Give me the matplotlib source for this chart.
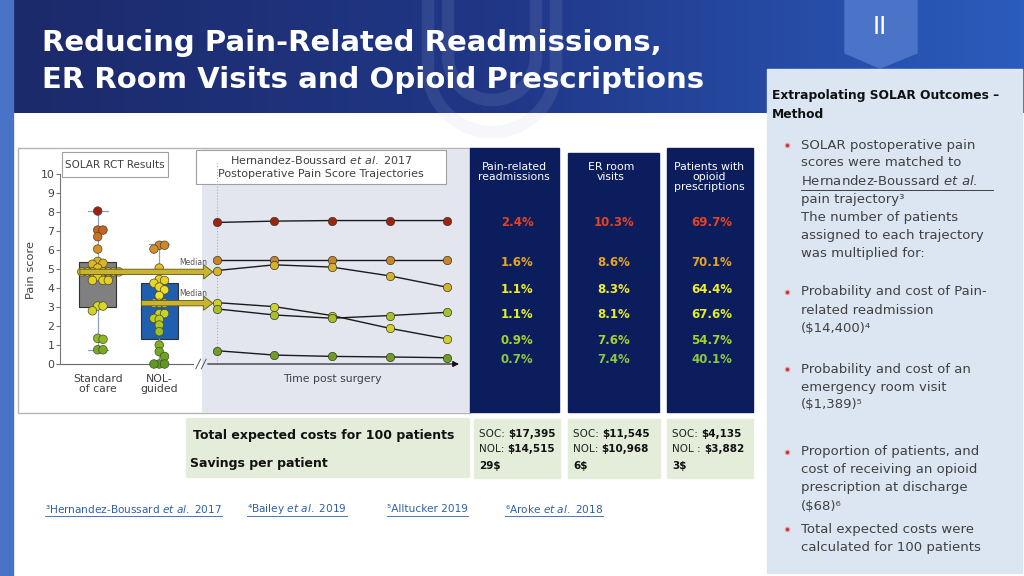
import numpy as np
import matplotlib
matplotlib.use("Agg")
import matplotlib.pyplot as plt
import matplotlib.transforms as mtransforms
from matplotlib.patches import Rectangle, Polygon
from matplotlib.colors import LinearSegmentedColormap

plt.rcParams['font.family'] = ['DejaVu Sans']
plt.rcParams['mathtext.fontset'] = 'custom'
plt.rcParams['mathtext.rm'] = 'DejaVu Sans'
plt.rcParams['mathtext.it'] = 'DejaVu Sans:italic'
plt.rcParams['mathtext.bf'] = 'DejaVu Sans:bold'

# ---- data ----
soc_scores = [8.05, 7.05, 7.05, 6.7, 6.05, 5.4, 5.3, 5.25, 5.05,
              4.85, 4.85, 4.85, 4.85, 4.85, 4.85, 4.85, 4.6, 4.4, 4.4, 4.4,
              3.05, 3.05, 2.8, 1.35, 1.3, 0.75, 0.75]
nol_scores = [6.25, 6.25, 6.05, 5.05, 4.45, 4.4, 4.25, 4.05, 3.9, 3.6,
              3.2, 3.2, 3.2, 2.65, 2.65, 2.4, 2.35, 2.05, 1.7, 1.0, 0.65,
              0.4, 0.0, 0.0, 0.0]
soc_box = dict(med=4.85, q1=3.0, q3=5.35, whislo=0.75, whishi=8.05)
nol_box = dict(med=3.2, q1=1.3, q3=4.25, whislo=0.0, whishi=6.3)
group_labels = ["Standard\nof care", "NOL-\nguided"]

time_points = [1, 2, 3, 4, 5]
traj_scores = [
    [7.45, 7.52, 7.55, 7.55, 7.55],
    [5.45, 5.45, 5.45, 5.45, 5.45],
    [4.92, 5.22, 5.10, 4.64, 4.04],
    [3.23, 3.02, 2.55, 1.88, 1.32],
    [2.90, 2.58, 2.41, 2.55, 2.72],
    [0.70, 0.47, 0.40, 0.37, 0.33],
]
traj_colors = ["#9c2410", "#c8842c", "#d6b22a", "#cfd02a", "#a9bf2a", "#6f9c24"]
pct_colors = ["#e8431d", "#e8a420", "#f2ee24", "#a6d22c", "#e0ee2c", "#8cc63e"]

outcome_titles = ["Pain-related\nreadmissions", "ER room\nvisits",
                  "Patients with\nopioid\nprescriptions"]
readmission_pct = ["2.4%", "1.6%", "1.1%", "0.9%", "1.1%", "0.7%"]
er_pct = ["10.3%", "8.6%", "8.3%", "7.6%", "8.1%", "7.4%"]
opioid_pct = ["69.7%", "70.1%", "64.4%", "54.7%", "67.6%", "40.1%"]

soc_costs = ["$17,395", "$11,545", "$4,135"]
nol_costs = ["$14,515", "$10,968", "$3,882"]
nol_tags = ["NOL:", "NOL:", "NOL :"]
savings = ["29$", "6$", "3$"]

footnotes = ["³Hernandez-Boussard $\\it{et\\ al.}$ 2017", "⁴Bailey $\\it{et\\ al.}$ 2019",
             "⁵Alltucker 2019", "⁶Aroke $\\it{et\\ al.}$ 2018"]

method_bullets = [
    ["SOLAR postoperative pain", "scores were matched to",
     "Hernandez-Boussard $\\it{et\\ al.}$", "pain trajectory³",
     "The number of patients", "assigned to each trajectory", "was multiplied for:"],
    ["Probability and cost of Pain-", "related readmission", "($14,400)⁴"],
    ["Probability and cost of an", "emergency room visit", "($1,389)⁵"],
    ["Proportion of patients, and", "cost of receiving an opioid",
     "prescription at discharge", "($68)⁶"],
    ["Total expected costs were", "calculated for 100 patients"],
]

navy = "#0c1d5e"
text_gray = "#404040"

fig = plt.figure(figsize=(10.24, 5.76), dpi=100)
fig.patch.set_facecolor("white")

# background canvas in pixel units
bg = fig.add_axes([0, 0, 1, 1], zorder=0)
bg.set_xlim(0, 1024)
bg.set_ylim(576, 0)
bg.axis("off")

# header band with gradient
grad = np.linspace(0, 1, 256).reshape(1, -1)
hdr_cmap = LinearSegmentedColormap.from_list("hdr", ["#1b2a6a", "#213888", "#2a5cbd"])
bg.imshow(grad, extent=(13, 1024, 113, 0), aspect="auto", cmap=hdr_cmap, zorder=0)
bg.add_patch(Rectangle((0, 0), 13, 576, color="#4873c6", zorder=1))

# faint U watermark
for r, cy in [(64, 68), (44, 56)]:
    th = np.linspace(np.pi, 2 * np.pi, 60)
    ux = np.concatenate([[492 - r], 492 + r * np.cos(th), [492 + r]])
    uy = np.concatenate([[-5], cy - r * np.sin(th), [-5]])
    bg.plot(ux, uy, color="#b9c3dc", lw=9, alpha=0.12, solid_capstyle="butt", zorder=1)

bg.text(42, 43, "Reducing Pain-Related Readmissions,", color="white", fontsize=21,
        fontweight="bold", va="center", zorder=3)
bg.text(42, 80, "ER Room Visits and Opioid Prescriptions", color="white", fontsize=21,
        fontweight="bold", va="center", zorder=3)

# section tab
bg.add_patch(Polygon([(845, 0), (917, 0), (917, 53), (880, 68), (845, 53)],
                     closed=True, color="#4b74c9", zorder=2))
bg.text(880, 27, "II", color="white", fontsize=17, ha="center", va="center", zorder=3)

# right panel
bg.add_patch(Rectangle((767, 69), 255, 504, color="#dce6f2", zorder=2))
bg.text(772, 95, "Extrapolating SOLAR Outcomes –", fontsize=8.8, fontweight="bold",
        color="#111111", va="center", zorder=3)
bg.text(772, 115, "Method", fontsize=8.8, fontweight="bold", color="#111111",
        va="center", zorder=3)
starts = [145, 292, 369, 452, 529]
for y0, lines in zip(starts, method_bullets):
    bg.plot(787, y0, "o", ms=3.2, color="#c0393b", mec="#e8a0a0", mew=0.8, zorder=3)
    for i, line in enumerate(lines):
        bg.text(801, y0 + i * 18, line, fontsize=9.5, color=text_gray, va="center", zorder=3)
bg.plot([801, 993], [190, 190], color=text_gray, lw=0.7, zorder=3)

# chart frame + shaded trajectory panel
bg.add_patch(Rectangle((18, 148), 452, 265, facecolor="white", edgecolor="#b5b5b5",
                       lw=1.0, zorder=1))
bg.add_patch(Rectangle((202, 148.5), 268, 264, facecolor="#e3e6ee", edgecolor="none", zorder=1))

# navy outcome columns
col_x = [(470, 559, 148), (568, 659, 153), (667, 753, 148)]
col_cx = [517, 614, 712]
for (x0, x1, top), title, cx in zip(col_x, outcome_titles, col_cx):
    bg.add_patch(Rectangle((x0, top), x1 - x0, 412 - top, color=navy, zorder=1))
    bg.text(cx - 3, 162, title, color="white", fontsize=7.8, ha="center", va="top",
            linespacing=1.0, zorder=3)

# chart title boxes
bg.add_patch(Rectangle((62, 152), 106, 25, facecolor="white", edgecolor="#a0a0a0", lw=0.8, zorder=3))
bg.text(115, 164.5, "SOLAR RCT Results", fontsize=7.5, color=text_gray, ha="center",
        va="center", zorder=4)
bg.add_patch(Rectangle((196, 150), 250, 34, facecolor="white", edgecolor="#a0a0a0", lw=0.8, zorder=3))
bg.text(321, 160, "Hernandez-Boussard $\\it{et\\ al.}$ 2017", fontsize=8, color=text_gray,
        ha="center", va="center", zorder=4)
bg.text(321, 174, "Postoperative Pain Score Trajectories", fontsize=8, color=text_gray,
        ha="center", va="center", zorder=4)

# cost boxes
cost_green = "#e3edda"
bg.add_patch(Rectangle((186, 418), 283, 59, color=cost_green, zorder=1))
bg.text(193, 436, "Total expected costs for 100 patients", fontsize=9, fontweight="bold",
        color="#111111", va="center", zorder=3)
bg.text(190, 464, "Savings per patient", fontsize=9, fontweight="bold", color="#111111",
        va="center", zorder=3)
box_x = [(474, 560), (568, 660), (667, 753)]
for (x0, x1), sc, nc, ntag, sv in zip(box_x, soc_costs, nol_costs, nol_tags, savings):
    bg.add_patch(Rectangle((x0, 419), x1 - x0, 59, color=cost_green, zorder=1))
    t1 = bg.text(x0 + 5, 434, "SOC: ", fontsize=7.5, color="#222222", va="center", zorder=3)
    bg.annotate(sc, xy=(1, 0.5), xycoords=t1, fontsize=7.5, fontweight="bold",
                color="#111111", va="center", ha="left", zorder=3)
    t2 = bg.text(x0 + 5, 449, ntag + " ", fontsize=7.5, color="#222222", va="center", zorder=3)
    bg.annotate(nc, xy=(1, 0.5), xycoords=t2, fontsize=7.5, fontweight="bold",
                color="#111111", va="center", ha="left", zorder=3)
    bg.text(x0 + 5, 466, sv, fontsize=7.5, fontweight="bold", color="#111111",
            va="center", zorder=3)

# footnotes
foot_x = [45, 247, 387, 505]
foot_texts = []
for fx, ft in zip(foot_x, footnotes):
    foot_texts.append(bg.text(fx, 509, ft, fontsize=7.6, color="#2e5fae", va="center", zorder=3))

# ---- chart axes (pixels 60..457 x, 364..174 y) ----
ax = fig.add_axes([60 / 1024, (576 - 364) / 576, 397 / 1024, 190 / 576], zorder=2)
ax.patch.set_visible(False)
ax.set_xlim(0, 10)
ax.set_ylim(0, 10)
for s in ["top", "right", "bottom"]:
    ax.spines[s].set_visible(False)
ax.spines["left"].set_color("#777777")
ax.spines["left"].set_linewidth(0.8)

box_pos = [0.95, 2.5]
t_start, t_step = 3.95, 1.45
traj_x = [t_start + (t - 1) * t_step for t in time_points]

score_cmap = LinearSegmentedColormap.from_list(
    "score", [(0, "#5f9a20"), (0.16, "#8cb822"), (0.32, "#c8d024"), (0.45, "#ece22a"),
              (0.62, "#e2c024"), (0.78, "#cf8426"), (0.88, "#c2601e"), (1.0, "#9c1e10")])

ax.bxp([soc_box, nol_box], positions=box_pos, widths=0.92, capwidths=0.5,
       showfliers=False, patch_artist=True, manage_ticks=False,
       boxprops=dict(edgecolor="#303030", linewidth=0.8),
       whiskerprops=dict(color="#8aa2c6", linewidth=0.9),
       capprops=dict(color="#8aa2c6", linewidth=0.9),
       medianprops=dict(color="#303030", linewidth=0.8), zorder=2)
for patch, fc in zip(ax.patches[-2:], ["#808080", "#1f5fae"]):
    patch.set_facecolor(fc)

ax.set_xticks([])
ax.set_yticks(range(0, 11))
ax.tick_params(axis="y", labelsize=7.8, labelcolor=text_gray, color="#777777",
               length=3, width=0.8, pad=1)


def swarm(values, center):
    # simple beeswarm: step sideways until the dot no longer overlaps
    dx, dy = 5.3 / 39.7, 5.3 / 19.0
    placed = []
    xs = []
    for v in values:
        k = 0
        while True:
            offs = [0] if k == 0 else [k, -k]
            hit = None
            for o in offs:
                x = center + o * dx
                if all(((x - px) / dx) ** 2 + ((v - py) / dy) ** 2 >= 0.98 for px, py in placed):
                    hit = x
                    break
            if hit is not None:
                break
            k += 1
        placed.append((hit, v))
        xs.append(hit)
    return xs


for scores, pos in zip([soc_scores, nol_scores], box_pos):
    xs = swarm(scores, pos)
    ax.scatter(xs, scores, s=38, c=[score_cmap(v / 8.1) for v in scores],
               edgecolors="#4a4a30", linewidths=0.5, zorder=3, clip_on=False)

# trajectories
for ys, c in zip(traj_scores, traj_colors):
    ax.plot(traj_x, ys, color="#1a1a1a", lw=1.0, zorder=3)
    ax.scatter(traj_x, ys, s=36, color=c, edgecolors="#3a3a2a", linewidths=0.5,
               zorder=4, clip_on=False)

# median arrows
for pos, med in zip(box_pos, [soc_box["med"], nol_box["med"]]):
    ax.annotate("", xy=(3.85, med), xytext=(pos - 0.45, med),
                arrowprops=dict(arrowstyle="simple,head_length=0.55,head_width=0.85,tail_width=0.32",
                                fc="#c8b432", ec="#5e5412", lw=0.6, shrinkA=0, shrinkB=0,
                                mutation_scale=12), zorder=5)
    ax.text(3.7, med + 0.5, "Median", fontsize=5.5, color="#555555", ha="right",
            va="center", zorder=5)

# dotted start-of-trajectory line
ax.plot([traj_x[0], traj_x[0]], [0, 10.7], color="#9fb0d4", lw=0.8, ls=":", zorder=1,
        clip_on=False)

# broken x axis with arrow
ax.plot([0, 3.35], [0, 0], color="#666666", lw=0.8, clip_on=False)
for x0 in [3.42, 3.56]:
    ax.plot([x0, x0 + 0.12], [-0.25, 0.25], color="#555555", lw=0.7, clip_on=False)
ax.annotate("", xy=(10.05, 0), xytext=(3.72, 0),
            arrowprops=dict(arrowstyle="-|>", color="#111111", lw=0.8, mutation_scale=9,
                            shrinkA=0, shrinkB=0), annotation_clip=False)

for pos, lab in zip(box_pos, group_labels):
    ax.text(pos, -0.55, lab, fontsize=7.8, color=text_gray, ha="center", va="top",
            linespacing=1.0)
ax.text(traj_x[2], -0.8, "Time post surgery", fontsize=7.8, color=text_gray,
        ha="center", va="center")
ax.text(-0.72, 4.95, "Pain score", fontsize=8.2, color=text_gray, rotation=90,
        ha="center", va="center")

# outcome percentages placed at each trajectory's last value
blend = mtransforms.blended_transform_factory(bg.transData, ax.transData)
for col, cx in zip([readmission_pct, er_pct, opioid_pct], col_cx):
    for ys, val, c in zip(traj_scores, col, pct_colors):
        ax.text(cx, ys[-1] - 0.1, val, transform=blend, fontsize=8.5, fontweight="bold",
                color=c, ha="center", va="center", zorder=6, clip_on=False)

# underline footnotes
fig.canvas.draw()
renderer = fig.canvas.get_renderer()
inv = bg.transData.inverted()
for t in foot_texts:
    bb = t.get_window_extent(renderer)
    (xa, _), (xb, _) = inv.transform([[bb.x0, bb.y0], [bb.x1, bb.y0]])
    bg.plot([xa, xb], [516, 516], color="#2e5fae", lw=0.6, zorder=3)

fig.savefig("out.png", dpi=100, facecolor="white")
